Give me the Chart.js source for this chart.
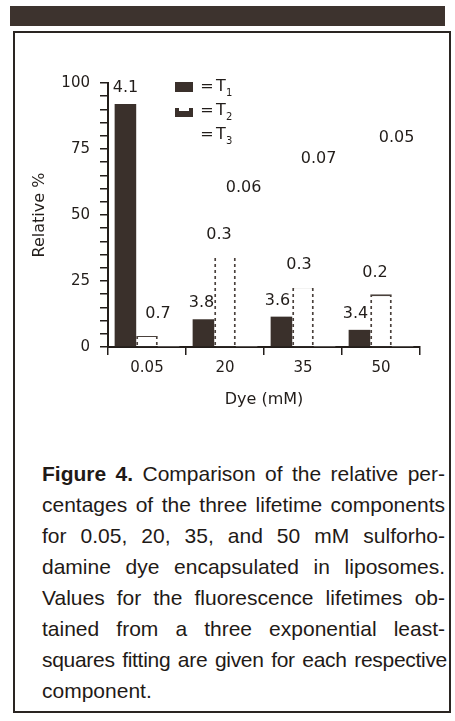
<!DOCTYPE html>
<html>
<head>
<meta charset="utf-8">
<script src="https://cdn.jsdelivr.net/npm/chart.js@4.4.1/dist/chart.umd.min.js"></script>
<style>
  html, body { margin: 0; padding: 0; background: #fff; }
  body { width: 455px; height: 721px; position: relative; overflow: hidden;
         font-family: "Liberation Sans", Arial, sans-serif; color: #1f1a17; }
  #band { position: absolute; left: 10px; top: 6px; width: 435px; height: 20px; background: #3d332e; }
  #frame { position: absolute; left: 13px; top: 31px; width: 434px; height: 678px; border: 2px solid #2a2522; }
  #wrap { position: absolute; left: 0; top: 0; width: 455px; height: 440px; }
  #caption { position: absolute; left: 42px; top: 458px; width: 403px; font-size: 21px; line-height: 31px; }
  #caption div { text-align: justify; text-align-last: justify; }
  #caption div.tight { letter-spacing: -0.3px; width: 405px; white-space: nowrap; }
  #caption div.last { text-align-last: left; }
</style>
</head>
<body>
<div id="band"></div>
<div id="frame"></div>
<div id="wrap"><canvas id="lifetimeChart" width="455" height="440"></canvas></div>
<div id="caption">
  <div><b>Figure 4.</b> Comparison of the relative per-</div>
  <div>centages of the three lifetime components</div>
  <div>for 0.05, 20, 35, and 50 mM sulforho-</div>
  <div>damine dye encapsulated in liposomes.</div>
  <div>Values for the fluorescence lifetimes ob-</div>
  <div>tained from a three exponential least-</div>
  <div class="tight">squares fitting are given for each respective</div>
  <div class="last">component.</div>
</div>

<script>
// Data
const categories = ['0.05', '20', '35', '50'];
const t1Values = [92, 10.5, 11.5, 6.5];
const t2Values = [4.5, 34.5, 23, 20];
const t3Values = [4, 53, 64, 72];
const t1Lifetimes = ['4.1', '3.8', '3.6', '3.4'];
const t2Lifetimes = ['0.7', '0.3', '0.3', '0.2'];
const t3Lifetimes = ['', '0.06', '0.07', '0.05'];
const yLabelTicks = [0, 25, 50, 75, 100];

const ink = '#221d1a';
const barDark = '#3a302b';
const font = '"DejaVu Sans", sans-serif';

// dashed outline for the T2 bars
function dashPattern() {
    const c = document.createElement('canvas');
    c.width = 4;
    c.height = 6;
    const g = c.getContext('2d');
    g.fillStyle = '#4a413c';
    g.fillRect(0, 0, 4, 3);
    return g.createPattern(c, 'repeat');
}

// lifetime values written above each bar
const barLabels = {
    id: 'barLabels',
    afterDatasetsDraw(chart) {
        const ctx = chart.ctx;
        ctx.save();
        ctx.font = '16px ' + font;
        ctx.fillStyle = ink;
        ctx.textAlign = 'center';
        ctx.textBaseline = 'middle';
        chart.data.datasets.forEach((ds, i) => {
            chart.getDatasetMeta(i).data.forEach((bar, j) => {
                ctx.fillText(ds.lifetimes[j], bar.x + ds.labelDx[j], bar.y - ds.labelDy);
            });
        });
        ctx.restore();
    }
};

// small key in the upper part of the plot
const keyBox = {
    id: 'keyBox',
    afterDraw(chart) {
        const ctx = chart.ctx;
        ctx.save();
        ctx.fillStyle = barDark;
        ctx.fillRect(175, 82, 18, 10);
        ctx.fillRect(175, 108, 18, 9);
        ctx.fillStyle = '#fff';
        ctx.fillRect(179, 108, 10, 3);
        ctx.fillStyle = ink;
        ctx.textBaseline = 'middle';
        const rows = [[87, '1'], [111, '2'], [135, '3']];
        rows.forEach(([y, sub]) => {
            ctx.font = '16px ' + font;
            ctx.textAlign = 'center';
            ctx.fillText('=', 207, y);
            ctx.textAlign = 'left';
            ctx.fillText('T', 216, y);
            ctx.font = '10px ' + font;
            ctx.fillText(sub, 226, y + 6);
        });
        ctx.restore();
    }
};

const ctx = document.getElementById('lifetimeChart').getContext('2d');
new Chart(ctx, {
    type: 'bar',
    data: {
        labels: categories,
        datasets: [
            {
                label: 'T1',
                data: t1Values,
                backgroundColor: barDark,
                borderWidth: 0,
                lifetimes: t1Lifetimes,
                labelDx: [0, -2, -4, -4],
                labelDy: 16
            },
            {
                label: 'T2',
                data: t2Values,
                backgroundColor: '#ffffff',
                borderColor: dashPattern(),
                borderWidth: { top: 2, left: 2, right: 2, bottom: 0 },
                lifetimes: t2Lifetimes,
                labelDx: [11, -6, -4, -6],
                labelDy: 21
            },
            {
                label: 'T3',
                data: t3Values,
                backgroundColor: '#ffffff',
                borderWidth: 0,
                lifetimes: t3Lifetimes,
                labelDx: [0, -3, -6, -6],
                labelDy: 19
            }
        ]
    },
    options: {
        responsive: false,
        animation: false,
        devicePixelRatio: 1,
        layout: { padding: { left: 20, right: 35, top: 83, bottom: 10 } },
        datasets: {
            bar: { categoryPercentage: 0.83, barPercentage: 1.0 }
        },
        plugins: {
            legend: { display: false },
            tooltip: { enabled: false }
        },
        scales: {
            x: {
                offset: true,
                grid: { offset: true, drawOnChartArea: false, drawTicks: true, tickLength: 8, color: ink, lineWidth: 1.5 },
                border: { display: true, color: ink, width: 2 },
                ticks: { color: ink, font: { family: font, size: 15 }, padding: 4, maxRotation: 0 },
                title: { display: true, text: 'Dye (mM)', color: ink, font: { family: font, size: 16 }, padding: { top: 0, bottom: 21 } },
                afterFit(scale) { scale.height = 83; }
            },
            y: {
                min: 0,
                max: 100,
                grid: { drawOnChartArea: false, drawTicks: true, tickLength: 8, color: ink, lineWidth: 1.5 },
                border: { display: true, color: ink, width: 2 },
                ticks: {
                    stepSize: 5,
                    autoSkip: false,
                    color: ink,
                    font: { family: font, size: 15 },
                    padding: 10,
                    callback: (v) => (yLabelTicks.includes(v) ? String(v) : '')
                },
                title: { display: true, text: 'Relative %', color: ink, font: { family: font, size: 16 }, padding: { top: 10, bottom: 0 } },
                afterFit(scale) { scale.width = 88; }
            }
        }
    },
    plugins: [barLabels, keyBox]
});
</script>
</body>
</html>
